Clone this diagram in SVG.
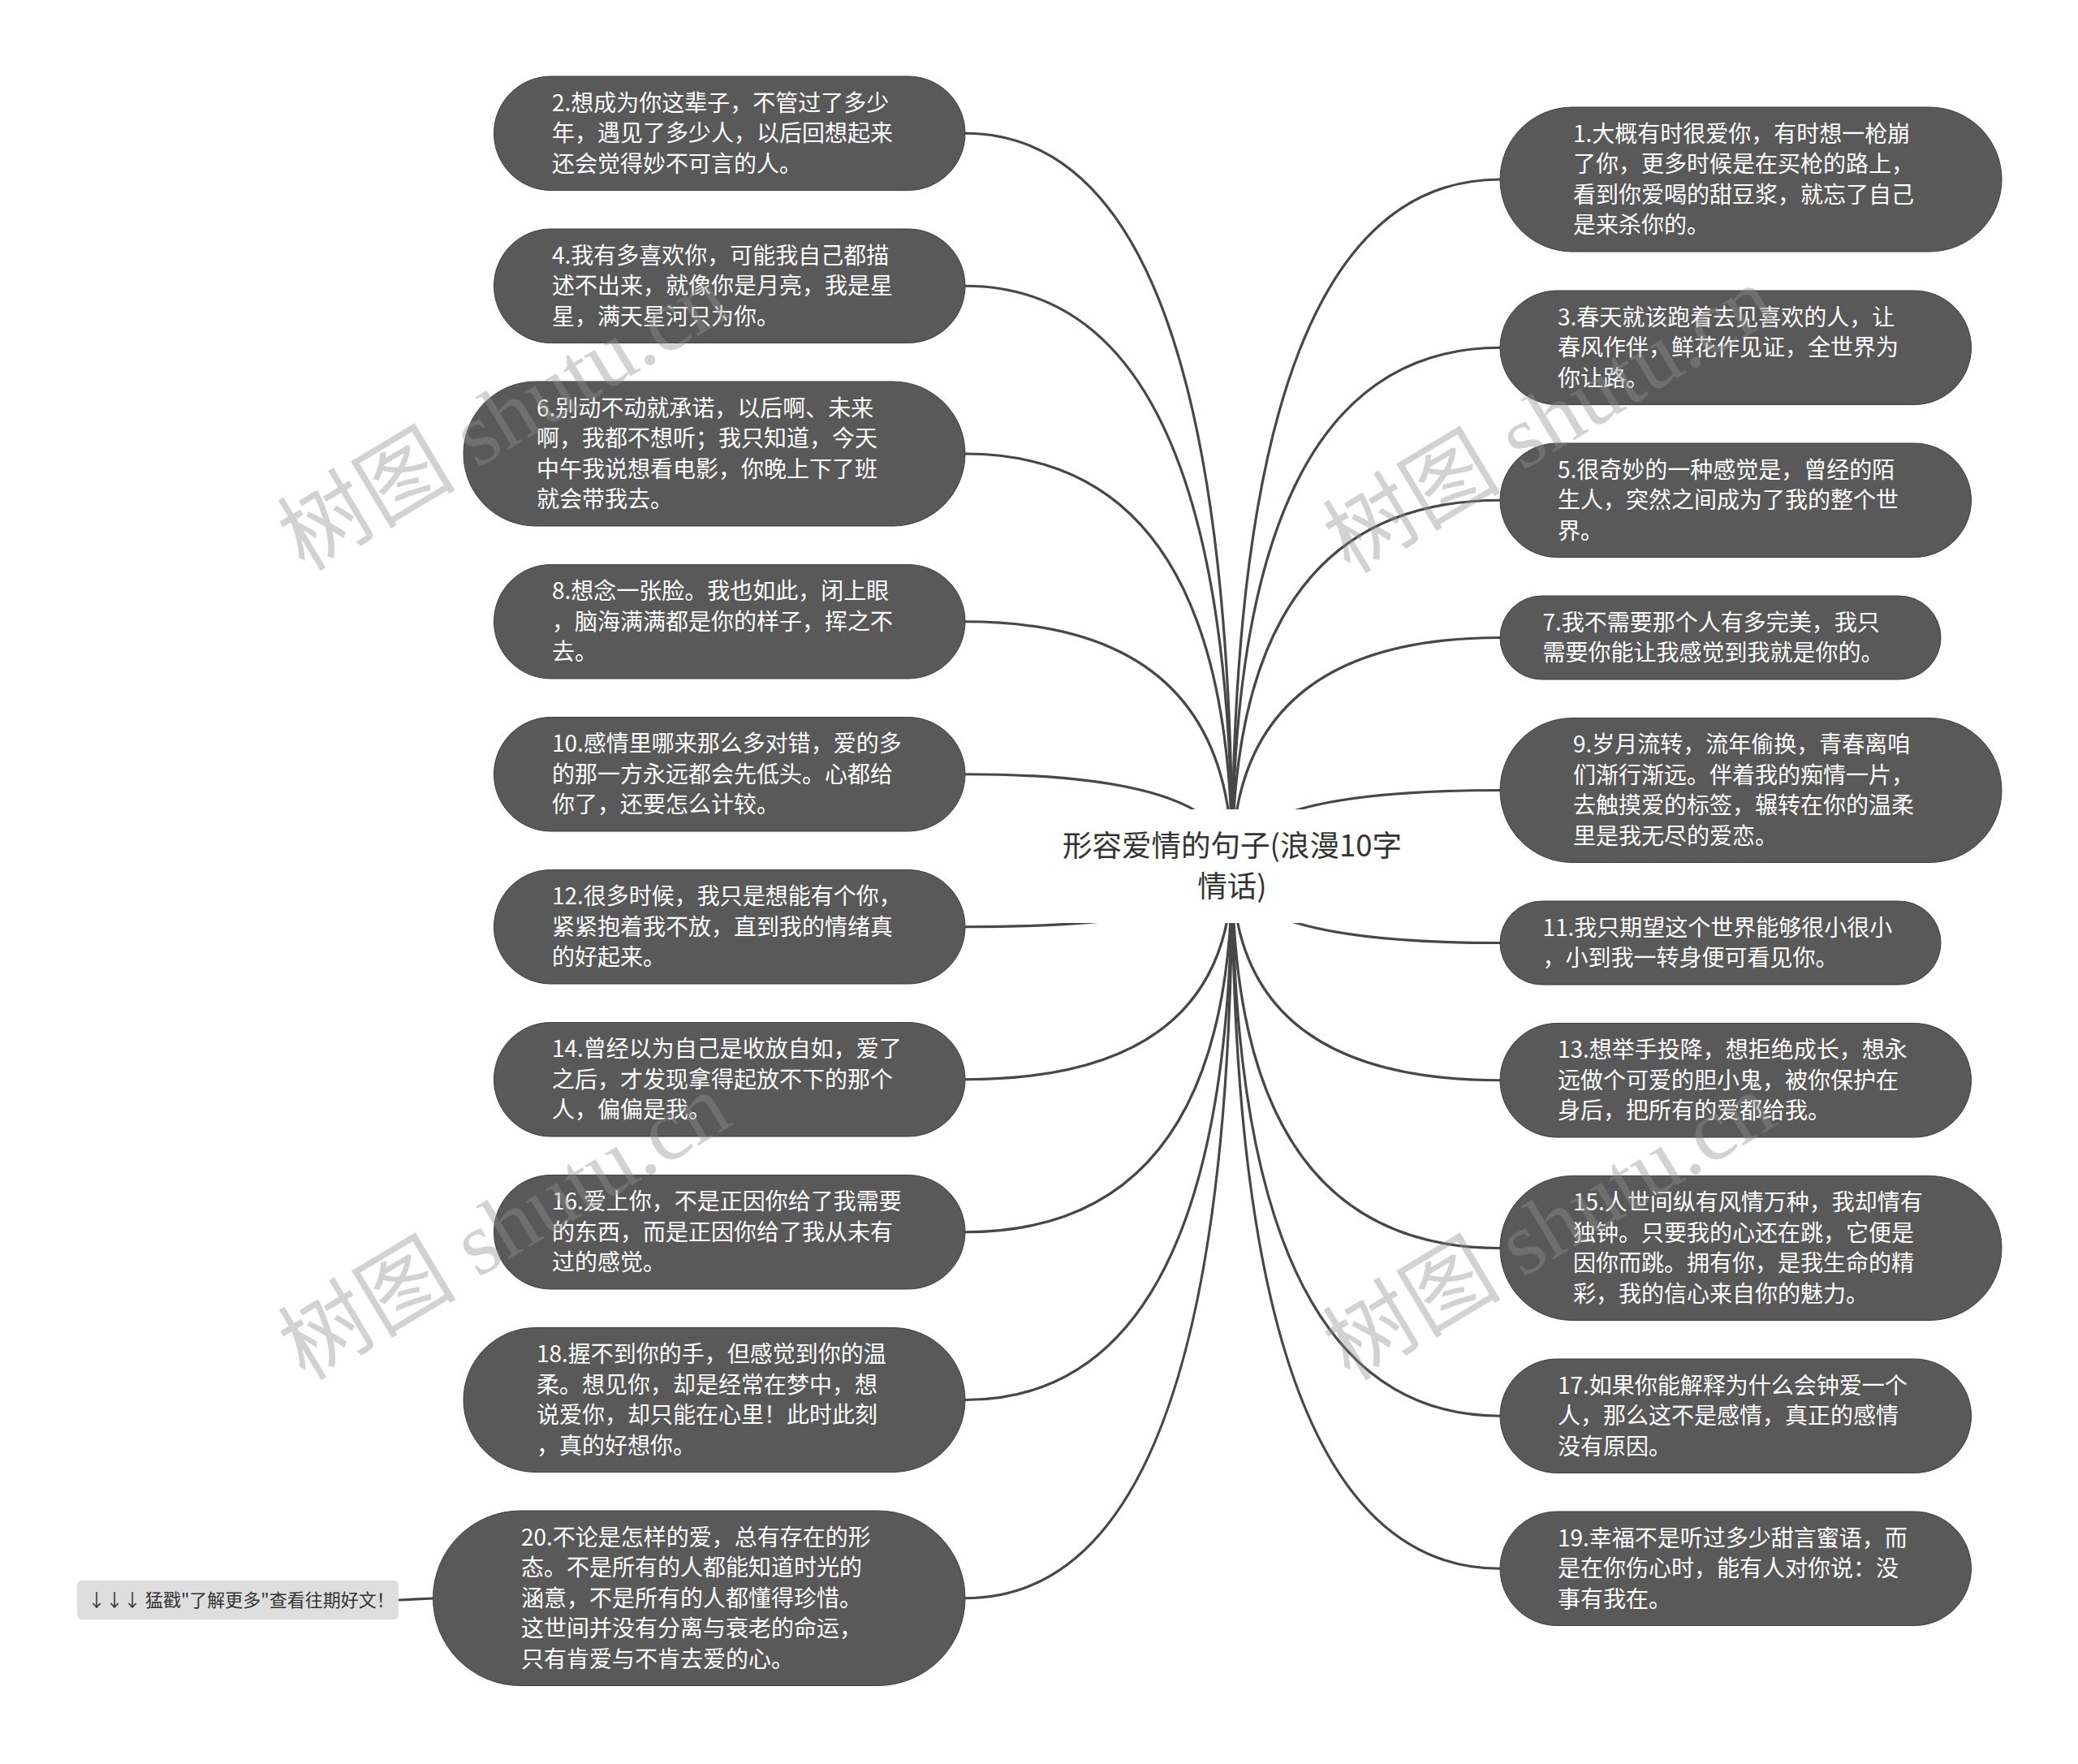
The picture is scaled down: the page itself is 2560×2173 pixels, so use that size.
<svg xmlns="http://www.w3.org/2000/svg" width="2560" height="2173" viewBox="0 0 2560 2173">
<style>
.node rect{fill:#595959;stroke:#3f3f3f;stroke-width:1}
.node text{fill:#ffffff;font-family:"Noto Sans CJK SC","Noto Sans",sans-serif;font-size:28px}
.link{fill:none;stroke:#474747;stroke-width:3.2}
.root text{fill:#333333;font-family:"Noto Sans CJK SC","Noto Sans",sans-serif;font-size:36.5px;text-anchor:middle}
.tip rect{fill:#dedede}
.tip text{fill:#333333;font-family:"Noto Sans CJK SC","Noto Sans",sans-serif;font-size:22px}
.wm{font-family:"Liberation Serif","Noto Sans CJK SC",serif;font-size:110px;fill:#909090;opacity:0.4}
</style>
<rect width="2560" height="2173" fill="#ffffff"/>
<g id="connectors">
<path class="link" d="M1518,1067 Q1518,164.25 1189,164.25"/>
<path class="link" d="M1518,1067 Q1518,352.25 1189,352.25"/>
<path class="link" d="M1518,1067 Q1518,559 1189,559"/>
<path class="link" d="M1518,1067 Q1518,765.75 1189,765.75"/>
<path class="link" d="M1518,1067 Q1518,953.75 1189,953.75"/>
<path class="link" d="M1518,1067 Q1518,1141.75 1189,1141.75"/>
<path class="link" d="M1518,1067 Q1518,1329.75 1189,1329.75"/>
<path class="link" d="M1518,1067 Q1518,1517.75 1189,1517.75"/>
<path class="link" d="M1518,1067 Q1518,1724.5 1189,1724.5"/>
<path class="link" d="M1518,1067 Q1518,1968.75 1189,1968.75"/>
<path class="link" d="M1518,1067 Q1518,221 1848,221"/>
<path class="link" d="M1518,1067 Q1518,428.25 1848,428.25"/>
<path class="link" d="M1518,1067 Q1518,616.25 1848,616.25"/>
<path class="link" d="M1518,1067 Q1518,785.5 1848,785.5"/>
<path class="link" d="M1518,1067 Q1518,973.5 1848,973.5"/>
<path class="link" d="M1518,1067 Q1518,1161.5 1848,1161.5"/>
<path class="link" d="M1518,1067 Q1518,1330.75 1848,1330.75"/>
<path class="link" d="M1518,1067 Q1518,1537.5 1848,1537.5"/>
<path class="link" d="M1518,1067 Q1518,1744.25 1848,1744.25"/>
<path class="link" d="M1518,1067 Q1518,1932.25 1848,1932.25"/>
<path class="link" d="M491,1971 L533.5,1969"/>
</g>
<g id="root" class="root">
<rect x="1300" y="997" width="436" height="140" fill="#ffffff"/>
<text><tspan x="1518" y="1055">形容爱情的句子(浪漫10字</tspan><tspan x="1518" y="1105">情话)</tspan></text>
</g>
<g id="n2" class="node"><rect x="608.5" y="94" width="580.5" height="140.5" rx="70.25"/>
<text><tspan x="680" y="136.75">2.想成为你这辈子，不管过了多少</tspan><tspan x="680" y="174.25">年，遇见了多少人，以后回想起来</tspan><tspan x="680" y="211.75">还会觉得妙不可言的人。</tspan></text></g>
<g id="n4" class="node"><rect x="608.5" y="282" width="580.5" height="140.5" rx="70.25"/>
<text><tspan x="680" y="324.75">4.我有多喜欢你，可能我自己都描</tspan><tspan x="680" y="362.25">述不出来，就像你是月亮，我是星</tspan><tspan x="680" y="399.75">星，满天星河只为你。</tspan></text></g>
<g id="n6" class="node"><rect x="571" y="470" width="618" height="178" rx="89"/>
<text><tspan x="661" y="512.75">6.别动不动就承诺，以后啊、未来</tspan><tspan x="661" y="550.25">啊，我都不想听；我只知道，今天</tspan><tspan x="661" y="587.75">中午我说想看电影，你晚上下了班</tspan><tspan x="661" y="625.25">就会带我去。</tspan></text></g>
<g id="n8" class="node"><rect x="608.5" y="695.5" width="580.5" height="140.5" rx="70.25"/>
<text><tspan x="680" y="738.25">8.想念一张脸。我也如此，闭上眼</tspan><tspan x="680" y="775.75">，脑海满满都是你的样子，挥之不</tspan><tspan x="680" y="813.25">去。</tspan></text></g>
<g id="n10" class="node"><rect x="608.5" y="883.5" width="580.5" height="140.5" rx="70.25"/>
<text><tspan x="680" y="926.25">10.感情里哪来那么多对错，爱的多</tspan><tspan x="680" y="963.75">的那一方永远都会先低头。心都给</tspan><tspan x="680" y="1001.25">你了，还要怎么计较。</tspan></text></g>
<g id="n12" class="node"><rect x="608.5" y="1071.5" width="580.5" height="140.5" rx="70.25"/>
<text><tspan x="680" y="1114.25">12.很多时候，我只是想能有个你，</tspan><tspan x="680" y="1151.75">紧紧抱着我不放，直到我的情绪真</tspan><tspan x="680" y="1189.25">的好起来。</tspan></text></g>
<g id="n14" class="node"><rect x="608.5" y="1259.5" width="580.5" height="140.5" rx="70.25"/>
<text><tspan x="680" y="1302.25">14.曾经以为自己是收放自如，爱了</tspan><tspan x="680" y="1339.75">之后，才发现拿得起放不下的那个</tspan><tspan x="680" y="1377.25">人，偏偏是我。</tspan></text></g>
<g id="n16" class="node"><rect x="608.5" y="1447.5" width="580.5" height="140.5" rx="70.25"/>
<text><tspan x="680" y="1490.25">16.爱上你，不是正因你给了我需要</tspan><tspan x="680" y="1527.75">的东西，而是正因你给了我从未有</tspan><tspan x="680" y="1565.25">过的感觉。</tspan></text></g>
<g id="n18" class="node"><rect x="571" y="1635.5" width="618" height="178" rx="89"/>
<text><tspan x="661" y="1678.25">18.握不到你的手，但感觉到你的温</tspan><tspan x="661" y="1715.75">柔。想见你，却是经常在梦中，想</tspan><tspan x="661" y="1753.25">说爱你，却只能在心里！此时此刻</tspan><tspan x="661" y="1790.75">，真的好想你。</tspan></text></g>
<g id="n20" class="node"><rect x="533.5" y="1861" width="655.5" height="215.5" rx="107.75"/>
<text><tspan x="642" y="1903.75">20.不论是怎样的爱，总有存在的形</tspan><tspan x="642" y="1941.25">态。不是所有的人都能知道时光的</tspan><tspan x="642" y="1978.75">涵意，不是所有的人都懂得珍惜。</tspan><tspan x="642" y="2016.25">这世间并没有分离与衰老的命运，</tspan><tspan x="642" y="2053.75">只有肯爱与不肯去爱的心。</tspan></text></g>
<g id="tip" class="tip"><rect x="95" y="1947" width="396" height="48" rx="6"/>
<text x="108" y="1979">↓↓↓ 猛戳"了解更多"查看往期好文！</text></g>
<g id="n1" class="node"><rect x="1848" y="132" width="618" height="178" rx="89"/>
<text><tspan x="1938" y="174.75">1.大概有时很爱你，有时想一枪崩</tspan><tspan x="1938" y="212.25">了你，更多时候是在买枪的路上，</tspan><tspan x="1938" y="249.75">看到你爱喝的甜豆浆，就忘了自己</tspan><tspan x="1938" y="287.25">是来杀你的。</tspan></text></g>
<g id="n3" class="node"><rect x="1848" y="358" width="580.5" height="140.5" rx="70.25"/>
<text><tspan x="1919" y="400.75">3.春天就该跑着去见喜欢的人，让</tspan><tspan x="1919" y="438.25">春风作伴，鲜花作见证，全世界为</tspan><tspan x="1919" y="475.75">你让路。</tspan></text></g>
<g id="n5" class="node"><rect x="1848" y="546" width="580.5" height="140.5" rx="70.25"/>
<text><tspan x="1919" y="588.75">5.很奇妙的一种感觉是，曾经的陌</tspan><tspan x="1919" y="626.25">生人，突然之间成为了我的整个世</tspan><tspan x="1919" y="663.75">界。</tspan></text></g>
<g id="n7" class="node"><rect x="1848" y="734" width="543" height="103" rx="51.5"/>
<text><tspan x="1900.5" y="776.75">7.我不需要那个人有多完美，我只</tspan><tspan x="1900.5" y="814.25">需要你能让我感觉到我就是你的。</tspan></text></g>
<g id="n9" class="node"><rect x="1848" y="884.5" width="618" height="178" rx="89"/>
<text><tspan x="1938" y="927.25">9.岁月流转，流年偷换，青春离咱</tspan><tspan x="1938" y="964.75">们渐行渐远。伴着我的痴情一片，</tspan><tspan x="1938" y="1002.25">去触摸爱的标签，辗转在你的温柔</tspan><tspan x="1938" y="1039.75">里是我无尽的爱恋。</tspan></text></g>
<g id="n11" class="node"><rect x="1848" y="1110" width="543" height="103" rx="51.5"/>
<text><tspan x="1900.5" y="1152.75">11.我只期望这个世界能够很小很小</tspan><tspan x="1900.5" y="1190.25">，小到我一转身便可看见你。</tspan></text></g>
<g id="n13" class="node"><rect x="1848" y="1260.5" width="580.5" height="140.5" rx="70.25"/>
<text><tspan x="1919" y="1303.25">13.想举手投降，想拒绝成长，想永</tspan><tspan x="1919" y="1340.75">远做个可爱的胆小鬼，被你保护在</tspan><tspan x="1919" y="1378.25">身后，把所有的爱都给我。</tspan></text></g>
<g id="n15" class="node"><rect x="1848" y="1448.5" width="618" height="178" rx="89"/>
<text><tspan x="1938" y="1491.25">15.人世间纵有风情万种，我却情有</tspan><tspan x="1938" y="1528.75">独钟。只要我的心还在跳，它便是</tspan><tspan x="1938" y="1566.25">因你而跳。拥有你，是我生命的精</tspan><tspan x="1938" y="1603.75">彩，我的信心来自你的魅力。</tspan></text></g>
<g id="n17" class="node"><rect x="1848" y="1674" width="580.5" height="140.5" rx="70.25"/>
<text><tspan x="1919" y="1716.75">17.如果你能解释为什么会钟爱一个</tspan><tspan x="1919" y="1754.25">人，那么这不是感情，真正的感情</tspan><tspan x="1919" y="1791.75">没有原因。</tspan></text></g>
<g id="n19" class="node"><rect x="1848" y="1862" width="580.5" height="140.5" rx="70.25"/>
<text><tspan x="1919" y="1904.75">19.幸福不是听过多少甜言蜜语，而</tspan><tspan x="1919" y="1942.25">是在你伤心时，能有人对你说：没</tspan><tspan x="1919" y="1979.75">事有我在。</tspan></text></g>
<g id="watermarks">
<text class="wm" transform="translate(375,705) rotate(-31)">树图 shutu.cn</text>
<text class="wm" transform="translate(1663,708) rotate(-31)">树图 shutu.cn</text>
<text class="wm" transform="translate(376,1702) rotate(-31)">树图 shutu.cn</text>
<text class="wm" transform="translate(1663,1702) rotate(-31)">树图 shutu.cn</text>
</g>
</svg>
